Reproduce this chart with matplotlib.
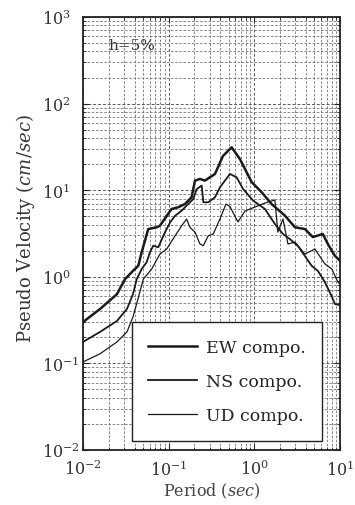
import numpy as np
import matplotlib
matplotlib.use('Agg')
import matplotlib.pyplot as plt
from matplotlib.ticker import LogLocator, NullFormatter

# ---- data ----
period_ew = [0.0100, 0.0158, 0.0249, 0.0309, 0.0383, 0.0442, 0.0484, 0.0578, 0.0724, 0.0791,
             0.108, 0.129, 0.155, 0.185, 0.203, 0.232, 0.265, 0.303, 0.347, 0.430,
             0.543, 0.679, 0.777, 0.931, 1.22, 1.59, 2.28, 2.98, 3.89, 4.82,
             6.31, 7.22, 8.71, 10.0]
ew = [0.30, 0.425, 0.63, 0.94, 1.17, 1.34, 1.92, 3.56, 3.73, 3.89,
      6.07, 6.35, 6.93, 8.28, 12.9, 13.5, 12.9, 14.1, 15.4, 24.8,
      31.3, 22.9, 17.6, 12.4, 9.46, 6.93, 5.08, 3.73, 3.56, 2.88,
      3.12, 2.39, 1.75, 1.53]

period_ns = [0.0100, 0.0158, 0.0249, 0.0326, 0.0383, 0.0424, 0.0484, 0.0553, 0.0605, 0.0661,
             0.0756, 0.0906, 0.104, 0.119, 0.142, 0.169, 0.194, 0.212, 0.243, 0.254,
             0.290, 0.347, 0.397, 0.519, 0.621, 0.741, 0.970, 1.33, 1.74, 2.16,
             2.60, 3.23, 4.67, 5.52, 6.66, 7.98, 8.73, 10.0]
ns = [0.177, 0.231, 0.309, 0.425, 0.63, 0.94, 1.23, 1.47, 1.92, 2.29,
      2.19, 3.27, 4.26, 5.08, 5.80, 6.93, 7.91, 10.3, 11.3, 7.25,
      7.25, 8.28, 10.8, 15.4, 14.1, 10.3, 7.57, 6.07, 4.07, 3.12,
      2.73, 2.27, 1.34, 1.17, 0.87, 0.60, 0.485, 0.47]

period_ud = [0.0100, 0.0158, 0.0249, 0.0326, 0.0383, 0.0438, 0.0506, 0.0634, 0.0791, 0.0948,
             0.119, 0.142, 0.162, 0.177, 0.203, 0.232, 0.254, 0.290, 0.331, 0.397,
             0.467, 0.519, 0.644, 0.777, 1.02, 1.33, 1.74, 1.88, 2.16, 2.47,
             2.98, 3.89, 5.09, 6.66, 8.04, 9.43, 10.0]
ud = [0.104, 0.129, 0.177, 0.231, 0.343, 0.554, 0.94, 1.23, 1.83, 2.09,
      2.98, 3.89, 4.65, 3.73, 3.27, 2.39, 2.29, 2.98, 3.12, 4.65,
      6.93, 6.49, 4.30, 5.75, 6.40, 7.11, 7.71, 3.29, 4.65, 2.39,
      2.52, 1.83, 2.09, 1.41, 1.23, 0.87, 0.83]

legend_labels = ['EW compo.', 'NS compo.', 'UD compo.']
x_ticks = [1e-2, 1e-1, 1e0, 1e1]
x_tick_labels = ['$10^{-2}$', '$10^{-1}$', '$10^{0}$', '$10^{1}$']
y_ticks = [1e-2, 1e-1, 1e0, 1e1, 1e2, 1e3]
y_tick_labels = ['$10^{-2}$', '$10^{-1}$', '$10^{0}$', '$10^{1}$', '$10^{2}$', '$10^{3}$']

# ---- style ----
plt.rcParams['font.family'] = ['DejaVu Serif']
plt.rcParams['mathtext.fontset'] = 'dejavuserif'

fig = plt.figure(figsize=(3.55, 5.06), dpi=100)
ax = fig.add_axes([0.2338, 0.1087, 0.7239, 0.8557])
ax.set_xscale('log')
ax.set_yscale('log')

ax.plot(period_ew, ew, color='#1a1a1a', lw=1.8, label=legend_labels[0], zorder=3)
ax.plot(period_ns, ns, color='#1a1a1a', lw=1.3, label=legend_labels[1], zorder=3)
ax.plot(period_ud, ud, color='#1a1a1a', lw=0.9, label=legend_labels[2], zorder=3)

ax.set_xlim(1e-2, 1e1)
ax.set_ylim(1e-2, 1e3)

ax.set_xticks(x_ticks)
ax.set_xticklabels(x_tick_labels, fontsize=11.5, color='#333')
ax.set_yticks(y_ticks)
ax.set_yticklabels(y_tick_labels, fontsize=11.5, ha='left', color='#333')
ax.xaxis.set_minor_locator(LogLocator(base=10, subs=np.arange(2, 10), numticks=20))
ax.yaxis.set_minor_locator(LogLocator(base=10, subs=np.arange(2, 10), numticks=20))
ax.xaxis.set_minor_formatter(NullFormatter())
ax.yaxis.set_minor_formatter(NullFormatter())

ax.grid(which='major', color='0.35', lw=0.7, ls=(0, (3, 2)))
ax.grid(which='minor', color='0.45', lw=0.6, ls=(0, (3, 2)))
ax.set_axisbelow(True)
ax.tick_params(which='both', direction='in', top=True, right=True, color='#222')
ax.tick_params(which='major', length=4)
ax.tick_params(which='minor', length=2.5)
ax.tick_params(axis='y', pad=29.5)
ax.tick_params(axis='x', pad=7)
for sp in ax.spines.values():
    sp.set_linewidth(1.3)
    sp.set_color('#222')

ax.set_xlabel('Period ($\\it{sec}$)', fontsize=11.5, color='#444', labelpad=1)
ax.set_ylabel('Pseudo Velocity ($\\it{cm/sec}$)', fontsize=13, color='#333')
ax.yaxis.set_label_coords(-0.18, 0.513)

ax.text(0.10, 0.935, 'h=5%', transform=ax.transAxes, fontsize=11, color='#333',
        va='center', ha='left')

leg = ax.legend(loc='lower right', bbox_to_anchor=(0.93, 0.021), borderaxespad=0,
                prop={'family': 'DejaVu Serif', 'size': 12.5}, frameon=True, fancybox=False,
                edgecolor='#222', framealpha=1.0, handlelength=2.8, handletextpad=0.5,
                labelspacing=1.0, borderpad=0.95)
leg.get_frame().set_linewidth(1.0)
for t in leg.get_texts():
    t.set_color('#222')

fig.savefig('out.png', dpi=100)
